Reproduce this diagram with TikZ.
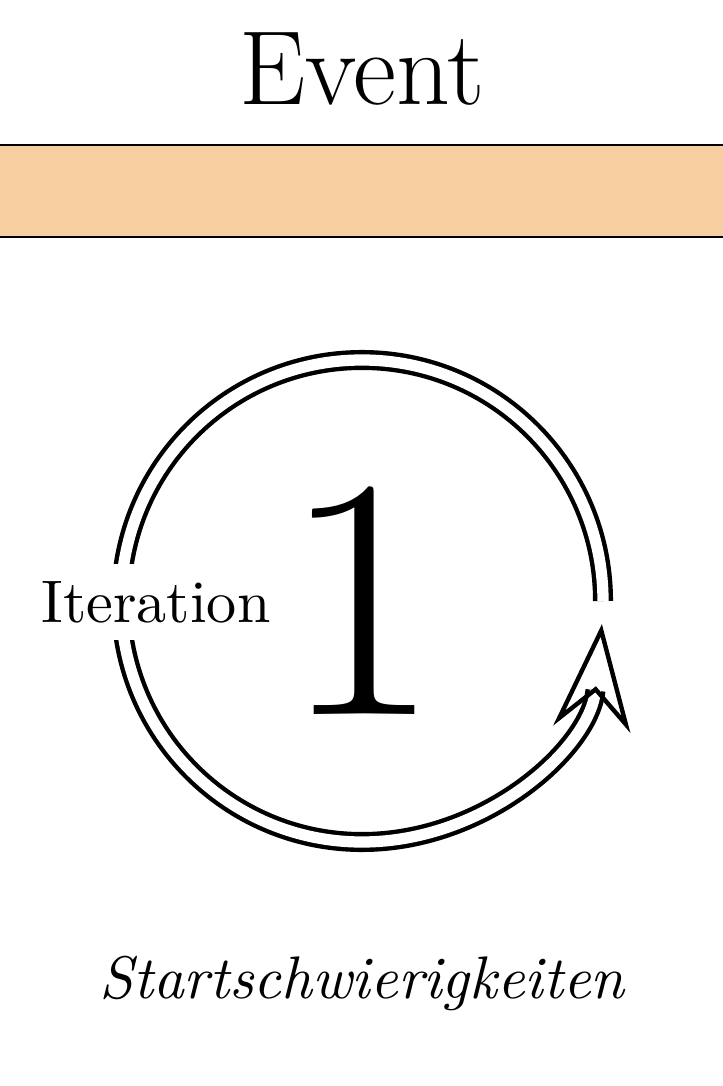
\documentclass[tikz,border=0pt]{standalone}
\usetikzlibrary{
  positioning,
  arrows.meta,
  calc
}
\definecolor{evOrangeL}{HTML}{F6CEA0}

\begin{document}
\begin{tikzpicture}[
  every node/.style={align=center},
  titletext/.style={font=\fontsize{30}{36}\selectfont, inner sep=0pt},
  bandbox/.style={
    rectangle, draw=black, fill=evOrangeL, line width=0.7pt,
    minimum width=7.6cm, minimum height=0.92cm
  },
  bignum/.style={font=\fontsize{98}{110}\selectfont, inner sep=0pt},
  looplabel/.style={
    font=\fontsize{10}{12}\selectfont, fill=white, inner sep=2.8pt,
    scale=1.71, transform shape
  },
  subtitle/.style={
    font=\fontsize{10}{12}\selectfont\itshape, inner sep=0pt,
    scale=1.71, transform shape
  },
  looparrow/.style={
    -{Stealth[length=30pt, width=22pt, inset=10.5pt, open]},
    double, line width=1.25pt, double distance=3.2pt
  }
]
 % Page: 7.23 x 10.86
 \useasboundingbox (0,0) rectangle (7.23,-10.86);

 % Header
 \node[titletext, anchor=base] (title) at (3.62,-1.05) {Event};
 \node[bandbox] (band) at (3.62,-1.91) {};

 % Iteration cycle
 \coordinate (c) at (3.62,-6.01);
 \draw[looparrow] ([xshift=2.41cm]c) arc[start angle=0, end angle=354.5, radius=2.41cm];
 \node[bignum] (num) at (c) {1};
 \node[looplabel] (iter) at (1.56,-6.02) {Iteration};

 % Footer
 \node[subtitle, anchor=base] (phase) at (3.62,-9.98) {Startschwierigkeiten};
\end{tikzpicture}
\end{document}
